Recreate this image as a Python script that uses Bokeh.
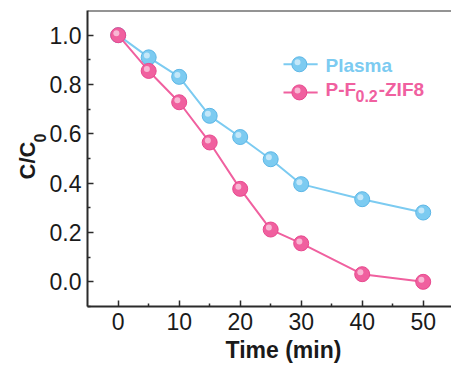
from bokeh.plotting import figure
from bokeh.models import FixedTicker, Span, Label, Range1d, NumeralTickFormatter, Title
from bokeh.embed import file_html
from bokeh.resources import INLINE

time_min = [0, 5, 10, 15, 20, 25, 30, 40, 50]
plasma = [1.0, 0.91, 0.831, 0.673, 0.587, 0.497, 0.396, 0.335, 0.281]
pf_zif8 = [1.0, 0.855, 0.728, 0.565, 0.377, 0.212, 0.156, 0.031, 0.0]
x_ticks = [0, 10, 20, 30, 40, 50]
x_minor = [5, 15, 25, 35, 45]
y_ticks = [0.0, 0.2, 0.4, 0.6, 0.8, 1.0]
y_minor = [-0.1, 0.1, 0.3, 0.5, 0.7, 0.9]

BLUE = "#7ccbf1"
BLUE_D = "#5cb6e6"
PINK = "#f0609f"
PINK_D = "#e8488e"
FONT = "Liberation Sans"
AX = "#2b2b2b"

p = figure(width=451, height=371, output_backend="svg", toolbar_location=None,
           x_range=Range1d(-5.03, 54.64), y_range=Range1d(-0.1, 1.1),
           min_border_left=87, min_border_top=10, min_border_right=0, min_border_bottom=65)
p.outline_line_color = None
p.grid.visible = False
p.background_fill_color = "white"

for ax in (p.xaxis[0], p.yaxis[0]):
    ax.axis_line_width = 2
    ax.axis_line_color = AX
    ax.major_tick_line_color = AX
    ax.minor_tick_line_color = AX
    ax.major_tick_line_width = 1.5
    ax.minor_tick_line_width = 1.5
    ax.major_tick_in = 6
    ax.major_tick_out = 0
    ax.minor_tick_in = 3
    ax.minor_tick_out = 0
    ax.major_label_text_font = FONT
    ax.major_label_text_font_size = "23px"
    ax.major_label_text_color = "#1a1a1a"

p.xaxis[0].ticker = FixedTicker(ticks=x_ticks, minor_ticks=x_minor)
p.yaxis[0].ticker = FixedTicker(ticks=y_ticks, minor_ticks=y_minor)
p.yaxis[0].formatter = NumeralTickFormatter(format="0.0")
p.xaxis[0].major_label_standoff = 6
p.yaxis[0].major_label_standoff = 6

# top frame line
p.add_layout(Span(location=1.1, dimension="width", line_color=AX, line_width=2))

def spheres(xs, ys, col, dark):
    p.line(xs, ys, line_color=col, line_width=2)
    p.scatter(xs, ys, size=15, fill_color=col, line_color=dark, line_width=1)
    hx = [x - 0.3 for x in xs]
    hy = [y + 0.008 for y in ys]
    p.scatter(hx, hy, size=6, fill_color="white", fill_alpha=0.55, line_color=None)

spheres(time_min, plasma, BLUE, BLUE_D)
spheres(time_min, pf_zif8, PINK, PINK_D)

# legend
leg_x0, leg_x1, leg_xm = 27.1, 32.7, 29.7
for yy, col, dark in ((0.882, BLUE, BLUE_D), (0.768, PINK, PINK_D)):
    p.line([leg_x0, leg_x1], [yy, yy], line_color=col, line_width=2)
    p.scatter([leg_xm], [yy], size=15, fill_color=col, line_color=dark, line_width=1)
    p.scatter([leg_xm - 0.3], [yy + 0.008], size=6, fill_color="white", fill_alpha=0.55, line_color=None)

def lab(x, y, t, size, color, **kw):
    l = Label(x=x, y=y, text=t, text_font=FONT, text_font_size=size, text_font_style="bold",
              text_color=color, **kw)
    p.add_layout(l)
    return l

lab(33.98, 0.878, "Plasma", "19px", BLUE, text_baseline="middle")
lab(33.98, 0.781, "P-F", "19px", PINK, text_baseline="middle")
lab(38.9, 0.753, "0.2", "16px", PINK, text_baseline="middle")
lab(42.7, 0.781, "-ZIF8", "19px", PINK, text_baseline="middle")

# axis titles
p.add_layout(Title(text="Time (min)", align="left", offset=138, text_font=FONT,
                   text_font_size="23px", text_font_style="bold", text_color="#1a1a1a",
                   vertical_align="bottom", standoff=5), "below")
p.add_layout(Title(text="0", align="left", offset=164, text_font=FONT,
                   text_font_size="16px", text_font_style="bold", text_color="#1a1a1a",
                   vertical_align="middle", standoff=0), "left")
p.add_layout(Title(text="C/C", align="left", offset=127, text_font=FONT,
                   text_font_size="22px", text_font_style="bold", text_color="#1a1a1a",
                   vertical_align="middle", standoff=-17), "left")

open("out.html", "w").write(file_html(p, INLINE))
